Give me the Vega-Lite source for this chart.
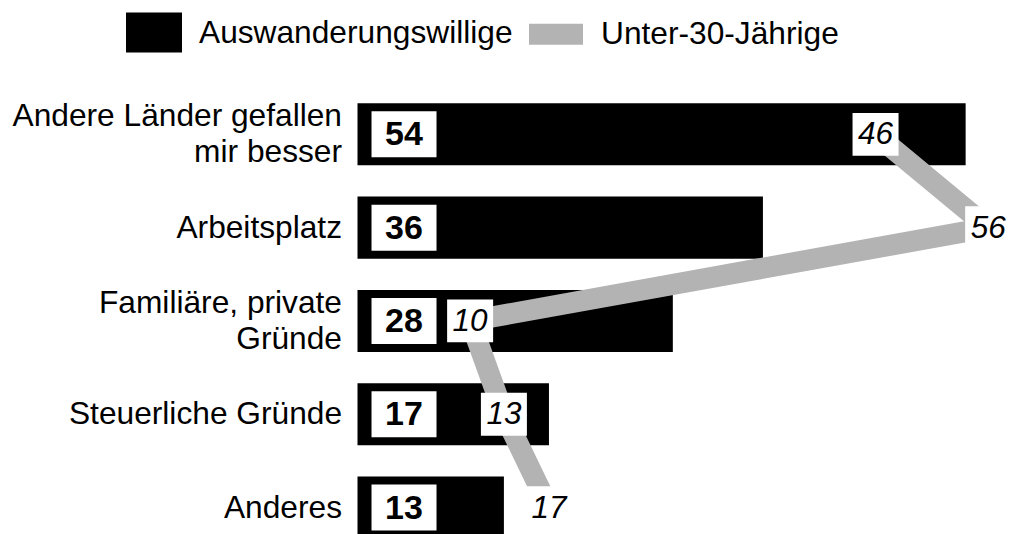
{
  "$schema": "https://vega.github.io/schema/vega-lite/v6.json",
  "width": 655,
  "height": 466.5,
  "autosize": {"type": "none"},
  "padding": {"left": 357.5, "top": 87.7, "right": 0, "bottom": 0},
  "background": "white",
  "config": {
    "view": {"stroke": null},
    "font": "Liberation Sans"
  },
  "data": {
    "values": [
      {"category": "Andere Länder gefallen mir besser", "aus": 54, "u30": 46},
      {"category": "Arbeitsplatz", "aus": 36, "u30": 56},
      {"category": "Familiäre, private Gründe", "aus": 28, "u30": 10},
      {"category": "Steuerliche Gründe", "aus": 17, "u30": 13},
      {"category": "Anderes", "aus": 13, "u30": 17}
    ]
  },
  "encoding": {
    "y": {
      "field": "category",
      "type": "nominal",
      "sort": ["Andere Länder gefallen mir besser", "Arbeitsplatz", "Familiäre, private Gründe", "Steuerliche Gründe", "Anderes"],
      "scale": {"paddingInner": 0.335, "paddingOuter": 0.1675},
      "axis": {
        "title": null,
        "domain": false,
        "ticks": false,
        "labelPadding": 16,
        "labelFont": "Liberation Sans",
        "labelFontSize": 31.7,
        "labelColor": "#000000",
        "labelLimit": 400,
        "labelLineHeight": 36,
        "labelOffset": {
          "condition": {"test": "datum.value == 'Andere Länder gefallen mir besser' || datum.value == 'Familiäre, private Gründe'", "value": -18},
          "value": 0
        },
        "labelExpr": "datum.value == 'Andere Länder gefallen mir besser' ? ['Andere Länder gefallen', 'mir besser'] : datum.value == 'Familiäre, private Gründe' ? ['Familiäre, private', 'Gründe'] : datum.value"
      }
    }
  },
  "layer": [
    {
      "mark": {"type": "bar", "fill": "#000000"},
      "encoding": {
        "x": {
          "field": "aus",
          "type": "quantitative",
          "scale": {"domain": [0, 58.16], "nice": false, "zero": true},
          "axis": null
        },
        "color": {
          "datum": "Auswanderungswillige",
          "scale": {"domain": ["Auswanderungswillige", "Unter-30-Jährige"], "range": ["#000000", "#b3b3b3"]},
          "legend": {
            "title": null,
            "orient": "none",
            "direction": "horizontal",
            "legendX": -231.5,
            "legendY": -83.2,
            "padding": 0,
            "symbolSize": 3136,
            "labelFont": "Liberation Sans",
            "labelFontSize": 31.7,
            "labelColor": "#000000",
            "labelOffset": 17,
            "columnPadding": 15,
            "labelLimit": 500,
            "encode": {
              "symbols": {
                "update": {
                  "shape": {"signal": "datum.value === 'Auswanderungswillige' ? 'M-1,-0.714H1V0.714H-1Z' : 'M-0.964,-0.375H0.964V0.375H-0.964Z'"},
                  "fill": {"signal": "datum.value === 'Auswanderungswillige' ? '#000000' : '#b3b3b3'"},
                  "strokeWidth": {"value": 0},
                  "opacity": {"value": 1},
                  "fillOpacity": {"value": 1}
                }
              }
            }
          }
        }
      }
    },
    {
      "mark": {"type": "line", "strokeWidth": 21, "strokeCap": "butt", "strokeJoin": "bevel"},
      "encoding": {
        "x": {"field": "u30", "type": "quantitative"},
        "order": {"field": "aus", "sort": "descending"},
        "color": {"datum": "Unter-30-Jährige"}
      }
    },
    {
      "mark": {"type": "point", "filled": true, "fill": "#ffffff", "opacity": 1, "strokeWidth": 0, "shape": "M-1,-0.708H1V0.708H-1Z", "size": 4225},
      "encoding": {
        "x": {"datum": 4.13, "type": "quantitative"}
      }
    },
    {
      "mark": {"type": "text", "font": "Liberation Sans", "fontWeight": "bold", "fontSize": 34, "align": "center", "baseline": "middle", "fill": "#000000", "dy": 1},
      "encoding": {
        "x": {"datum": 4.13, "type": "quantitative"},
        "text": {"field": "aus", "type": "quantitative"}
      }
    },
    {
      "mark": {"type": "point", "filled": true, "fill": "#ffffff", "opacity": 1, "strokeWidth": 0, "shape": "M-1,-0.93H1V0.93H-1Z", "size": 2116},
      "encoding": {
        "x": {"field": "u30", "type": "quantitative"}
      }
    },
    {
      "mark": {"type": "text", "font": "Liberation Sans", "fontStyle": "italic", "fontSize": 31.5, "align": "center", "baseline": "middle", "fill": "#000000", "dy": 1},
      "encoding": {
        "x": {"field": "u30", "type": "quantitative"},
        "text": {"field": "u30", "type": "quantitative"}
      }
    }
  ]
}
